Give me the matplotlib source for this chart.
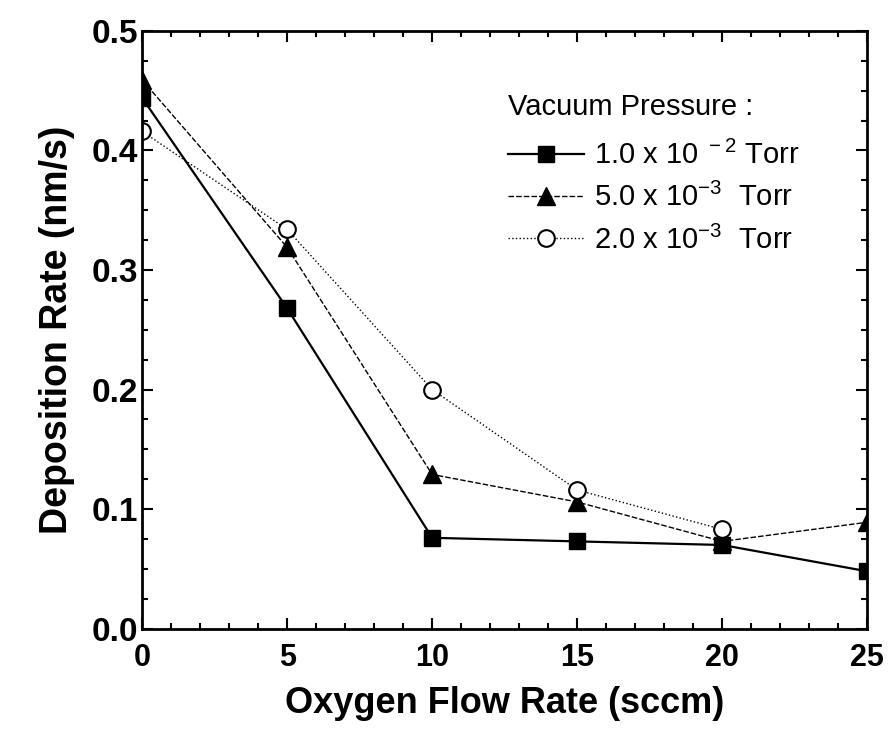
import matplotlib.pyplot as plt
from matplotlib.ticker import MultipleLocator

plt.rcParams['font.family'] = ['Liberation Sans', 'DejaVu Sans']
plt.rcParams['mathtext.default'] = 'regular'

flow = [0, 5, 10, 15, 20, 25]
rate_1e2 = [0.444, 0.268, 0.076, 0.073, 0.070, 0.048]
rate_5e3 = [0.459, 0.319, 0.129, 0.106, 0.073, 0.089]
rate_2e3 = [0.416, 0.334, 0.200, 0.116, 0.083, None]
labels = [r'1.0 x 10$^{\ -2}$ Torr', r'5.0 x 10$^{-3}$  Torr', r'2.0 x 10$^{-3}$  Torr']

fig = plt.figure(figsize=(8.94, 7.37), dpi=100)
ax = fig.add_axes([0.159, 0.147, 0.811, 0.811])

ax.plot(flow, rate_1e2, '-', color='k', lw=1.6, marker='s', ms=11, mfc='k', mec='k', label=labels[0])
ax.plot(flow, rate_5e3, '--', color='k', lw=1.0, dashes=(4, 1.5), marker='^', ms=13, mfc='k', mec='k', label=labels[1])
x3 = [f for f, v in zip(flow, rate_2e3) if v is not None]
y3 = [v for v in rate_2e3 if v is not None]
ax.plot(x3, y3, ':', color='k', lw=1.0, marker='o', ms=12, mfc='white', mec='k', mew=1.5, label=labels[2])

ax.set_xlim(0, 25)
ax.set_ylim(0, 0.5)
ax.xaxis.set_major_locator(MultipleLocator(5))
ax.xaxis.set_minor_locator(MultipleLocator(1))
ax.yaxis.set_major_locator(MultipleLocator(0.1))
ax.yaxis.set_minor_locator(MultipleLocator(0.025))
ax.yaxis.set_major_formatter(plt.FormatStrFormatter('%.1f'))
ax.tick_params(which='both', direction='in', top=True, right=True, width=1.5)
ax.tick_params(which='major', length=8)
ax.tick_params(axis='x', which='major', pad=10, labelsize=22)
ax.tick_params(axis='y', which='major', pad=3, labelsize=24)
ax.tick_params(which='minor', length=4)
for lab in ax.get_xticklabels() + ax.get_yticklabels():
    lab.set_fontweight('bold')
for sp in ax.spines.values():
    sp.set_linewidth(2)

ax.set_xlabel('Oxygen Flow Rate (sccm)', fontsize=26, fontweight='bold', labelpad=10)
ax.set_ylabel('Deposition Rate (nm/s)', fontsize=27, fontweight='bold', labelpad=12)

leg = ax.legend(loc='upper left', bbox_to_anchor=(0.485, 0.92), frameon=False,
                title='Vacuum Pressure :', fontsize=21, title_fontsize=21,
                handlelength=2.6, handletextpad=0.35, labelspacing=0.45, borderpad=0)
leg._legend_box.align = 'left'
leg._legend_box.sep = 14

fig.savefig('out.png', dpi=100)
